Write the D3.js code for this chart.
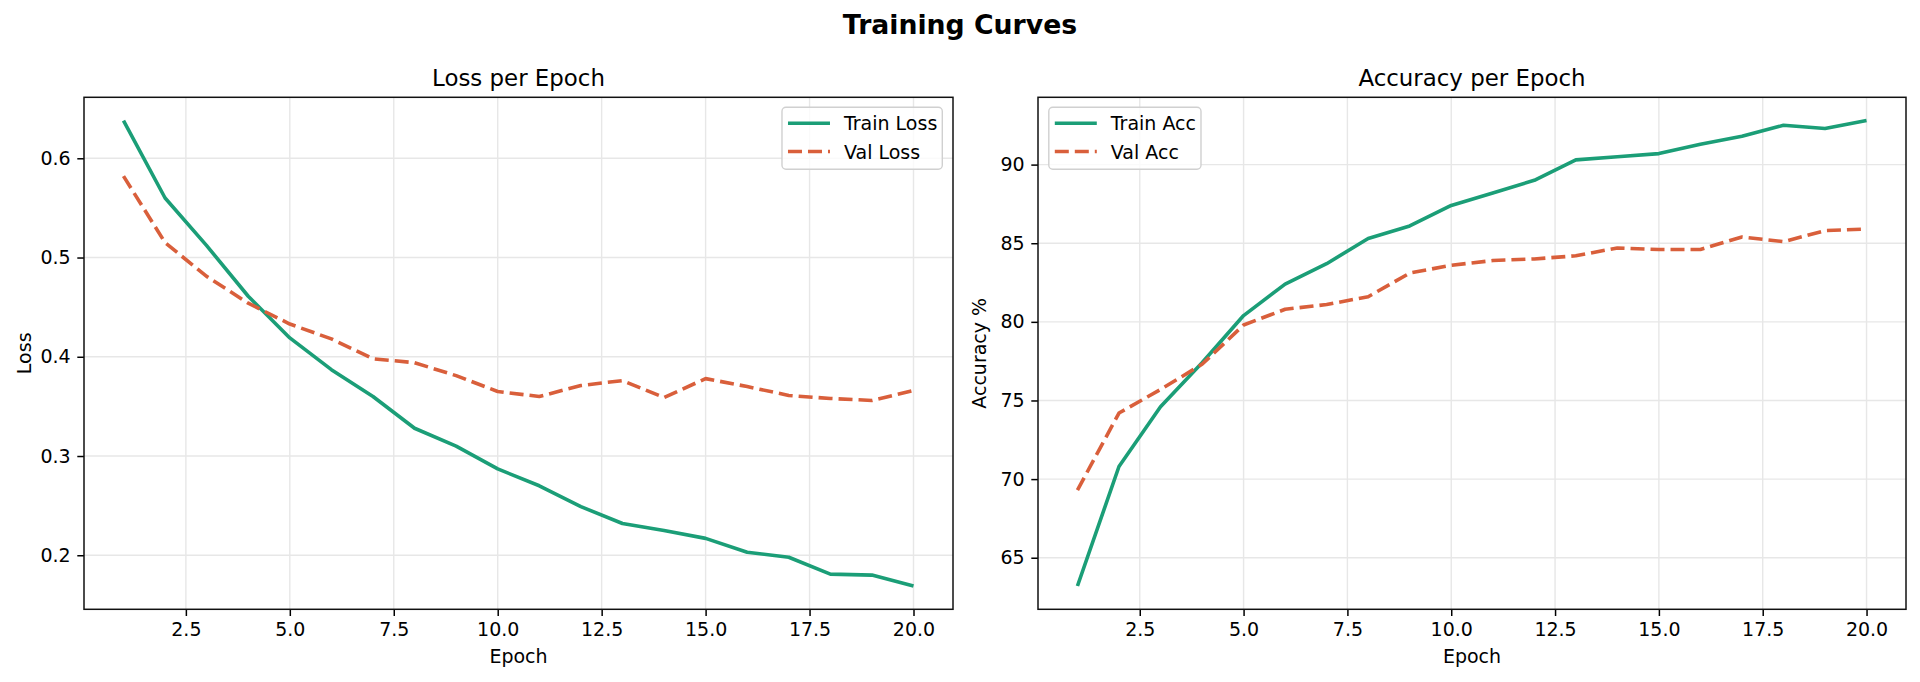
<!DOCTYPE html>
<html>
<head>
<meta charset="utf-8">
<script src="https://cdn.jsdelivr.net/npm/d3@7"></script>
<style>
  body { margin: 0; background: #fff; }
  svg { display: block; font-family: "DejaVu Sans", sans-serif; }
</style>
</head>
<body>
<script>
var w = 1920;
var h = 682;

var epochs = [1, 2, 3, 4, 5, 6, 7, 8, 9, 10, 11, 12, 13, 14, 15, 16, 17, 18, 19, 20];

var trainLoss = [0.638, 0.560, 0.512, 0.461, 0.419, 0.387, 0.360, 0.328, 0.310, 0.287,
                 0.270, 0.249, 0.232, 0.225, 0.217, 0.203, 0.198, 0.181, 0.180, 0.169];
var valLoss   = [0.582, 0.515, 0.481, 0.454, 0.433, 0.418, 0.398, 0.394, 0.381, 0.365,
                 0.360, 0.371, 0.376, 0.359, 0.378, 0.370, 0.361, 0.358, 0.356, 0.366];

var trainAcc = [63.2, 70.8, 74.6, 77.4, 80.4, 82.4, 83.7, 85.3, 86.1, 87.4,
                88.2, 89.0, 90.3, 90.5, 90.7, 91.3, 91.8, 92.5, 92.3, 92.8];
var valAcc   = [69.3, 74.2, 75.7, 77.3, 79.8, 80.8, 81.1, 81.6, 83.1, 83.6,
                83.9, 84.0, 84.2, 84.7, 84.6, 84.6, 85.4, 85.1, 85.8, 85.9];

var xTicks = [2.5, 5.0, 7.5, 10.0, 12.5, 15.0, 17.5, 20.0];
var lossTicks = [0.2, 0.3, 0.4, 0.5, 0.6];
var accTicks = [65, 70, 75, 80, 85, 90];

var green = "#1b9e77";
var orange = "#d95f3b";
var fs = 19;          // 10pt after scaling
var tickLen = 6.7;

var svg = d3.select("body")
            .append("svg")
            .attr("width", w)
            .attr("height", h);

svg.append("rect").attr("width", w).attr("height", h).attr("fill", "#fff");

svg.append("text")
   .attr("x", w / 2)
   .attr("y", 34)
   .attr("text-anchor", "middle")
   .attr("font-size", "26.7px")
   .attr("font-weight", "bold")
   .text("Training Curves");

// pad the data range by 5% like matplotlib does
function padded(lo, hi) {
    var m = (hi - lo) * 0.05;
    return [lo - m, hi + m];
}

function panel(p) {
    var g = svg.append("g");
    var top = 97.3, bottom = 609.3;

    var x = d3.scaleLinear()
              .domain(padded(d3.min(epochs), d3.max(epochs)))
              .range([p.left, p.right]);
    var all = p.series[0].values.concat(p.series[1].values);
    var y = d3.scaleLinear()
              .domain(padded(d3.min(all), d3.max(all)))
              .range([bottom, top]);

    // grid
    g.selectAll(".gx")
     .data(xTicks)
     .enter()
     .append("line")
     .attr("x1", function(d){ return x(d); })
     .attr("x2", function(d){ return x(d); })
     .attr("y1", top)
     .attr("y2", bottom)
     .attr("stroke", "#e7e7e7")
     .attr("stroke-width", 1.4);
    g.selectAll(".gy")
     .data(p.yTicks)
     .enter()
     .append("line")
     .attr("x1", p.left)
     .attr("x2", p.right)
     .attr("y1", function(d){ return y(d); })
     .attr("y2", function(d){ return y(d); })
     .attr("stroke", "#e7e7e7")
     .attr("stroke-width", 1.4);

    // curves
    p.series.forEach(function(s) {
        var line = d3.line()
                     .x(function(d, i){ return x(epochs[i]); })
                     .y(function(d){ return y(d); });
        g.append("path")
         .datum(s.values)
         .attr("d", line)
         .attr("fill", "none")
         .attr("stroke", s.color)
         .attr("stroke-width", 3.6)
         .attr("stroke-linejoin", "round")
         .attr("stroke-dasharray", s.dash ? "14,6" : null);
    });

    // axes
    var xAxis = d3.axisBottom(x)
                  .tickValues(xTicks)
                  .tickFormat(d3.format(".1f"))
                  .tickSize(tickLen)
                  .tickPadding(6.7)
                  .tickSizeOuter(0);
    var gx = g.append("g")
              .attr("transform", "translate(0," + bottom + ")")
              .call(xAxis);
    var yAxis = d3.axisLeft(y)
                  .tickValues(p.yTicks)
                  .tickFormat(p.yFormat)
                  .tickSize(tickLen)
                  .tickPadding(6.7)
                  .tickSizeOuter(0);
    var gy = g.append("g")
              .attr("transform", "translate(" + p.left + ",0)")
              .call(yAxis);
    [gx, gy].forEach(function(a) {
        a.select(".domain").remove();
        a.selectAll("line").attr("stroke", "#000").attr("stroke-width", 1.5);
        a.selectAll("text")
         .attr("fill", "#000")
         .attr("font-size", fs + "px")
         .attr("font-family", "DejaVu Sans");
    });

    // spines
    g.append("rect")
     .attr("x", p.left)
     .attr("y", top)
     .attr("width", p.right - p.left)
     .attr("height", bottom - top)
     .attr("fill", "none")
     .attr("stroke", "#111")
     .attr("stroke-width", 1.5);

    // labels
    var cx = (p.left + p.right) / 2;
    g.append("text")
     .attr("x", cx)
     .attr("y", 86)
     .attr("text-anchor", "middle")
     .attr("font-size", "22.9px")
     .text(p.title);
    g.append("text")
     .attr("x", cx)
     .attr("y", 663)
     .attr("text-anchor", "middle")
     .attr("font-size", fs + "px")
     .text("Epoch");
    g.append("text")
     .attr("transform", "translate(" + p.yLabelX + "," + ((top + bottom) / 2) + ") rotate(-90)")
     .attr("text-anchor", "middle")
     .attr("font-size", fs + "px")
     .text(p.yLabel);

    // legend
    var lg = g.append("g");
    var box = lg.append("rect")
                .attr("fill", "#fff")
                .attr("fill-opacity", 0.8)
                .attr("stroke", "#d0d0d0")
                .attr("stroke-width", 1.4)
                .attr("rx", 4);
    var maxW = 0;
    p.series.forEach(function(s, i) {
        var ry = 123.3 + i * 28.2;
        lg.append("line")
          .attr("x1", 6)
          .attr("x2", 48)
          .attr("y1", ry)
          .attr("y2", ry)
          .attr("stroke", s.color)
          .attr("stroke-width", 3.6)
          .attr("stroke-dasharray", s.dash ? "14,6" : null);
        var t = lg.append("text")
                  .attr("x", 62)
                  .attr("y", ry + 7)
                  .attr("font-size", fs + "px")
                  .text(s.name);
        maxW = Math.max(maxW, t.node().getComputedTextLength());
    });
    var bw = 62 + maxW + 5;
    box.attr("x", 0).attr("y", 107.3).attr("width", bw).attr("height", 62);
    var lx = p.legendRight ? p.right - 10.7 - bw : p.left + 10.8;
    lg.attr("transform", "translate(" + lx + ",0)");
}

panel({
    left: 84, right: 953,
    title: "Loss per Epoch",
    yLabel: "Loss", yLabelX: 30.6,
    yTicks: lossTicks, yFormat: d3.format(".1f"),
    legendRight: true,
    series: [
        { name: "Train Loss", values: trainLoss, color: green, dash: false },
        { name: "Val Loss", values: valLoss, color: orange, dash: true }
    ]
});

panel({
    left: 1038, right: 1906,
    title: "Accuracy per Epoch",
    yLabel: "Accuracy %", yLabelX: 986,
    yTicks: accTicks, yFormat: d3.format("d"),
    legendRight: false,
    series: [
        { name: "Train Acc", values: trainAcc, color: green, dash: false },
        { name: "Val Acc", values: valAcc, color: orange, dash: true }
    ]
});
</script>
</body>
</html>
